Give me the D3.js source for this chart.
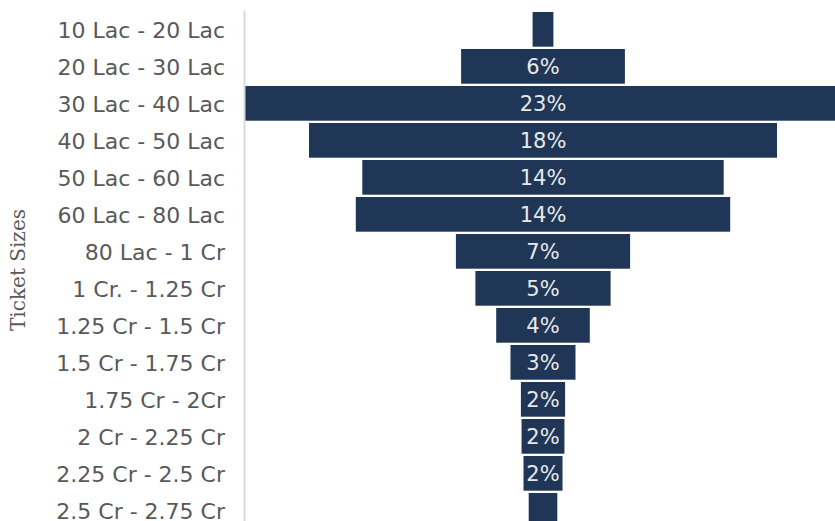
<!DOCTYPE html>
<html>
<head>
<meta charset="utf-8">
<script src="https://cdn.jsdelivr.net/npm/d3@7"></script>
<style>
  html, body { margin: 0; padding: 0; background: #fff; }
  svg { display: block; }
</style>
</head>
<body>
<div id="chart"></div>
<script>
/* ─────────────── DATA ─────────────── */
const categories = [
  '10 Lac - 20 Lac', '20 Lac - 30 Lac', '30 Lac - 40 Lac', '40 Lac - 50 Lac',
  '50 Lac - 60 Lac', '60 Lac - 80 Lac', '80 Lac - 1 Cr', '1 Cr. - 1.25 Cr',
  '1.25 Cr - 1.5 Cr', '1.5 Cr - 1.75 Cr', '1.75 Cr - 2Cr', '2 Cr - 2.25 Cr',
  '2.25 Cr - 2.5 Cr', '2.5 Cr - 2.75 Cr'
];
// share of units per ticket size (%)
const shares = [0.8, 6.3, 23.0, 18.0, 13.9, 14.4, 6.7, 5.2, 3.6, 2.5, 1.7, 1.65, 1.5, 1.1];
const axisTitle = 'Ticket Sizes';
/* ──────────────────────────────────── */

const W = 835, H = 521;
const plot = { left: 244, right: 835, top: 10.85, bottom: 528.85 };
const center = 543;

const svg = d3.select('#chart')
  .append('svg')
  .attr('width', W)
  .attr('height', H);

const x = d3.scaleLinear()
  .domain([-11.5, 11.5])
  .range([center - 11.5 * 26, center + 11.5 * 26]);

const y = d3.scaleBand()
  .domain(categories)
  .range([plot.top, plot.bottom])
  .paddingInner(0.062)
  .paddingOuter(0.031);

svg.append('clipPath')
  .attr('id', 'plot-clip')
  .append('rect')
  .attr('x', plot.left + 1)
  .attr('y', 0)
  .attr('width', plot.right - plot.left - 1)
  .attr('height', H);

const rows = categories.map((c, i) => ({ cat: c, v: shares[i] }));

// bars, centred on the funnel axis
const bars = svg.append('g').attr('clip-path', 'url(#plot-clip)');

bars.selectAll('rect')
  .data(rows)
  .join('rect')
    .attr('x', (d) => x(-d.v / 2))
    .attr('y', (d) => y(d.cat))
    .attr('width', (d) => x(d.v / 2) - x(-d.v / 2))
    .attr('height', y.bandwidth())
    .attr('fill', '#1f3657');

// labels only where they fit (>= 1.5%)
bars.selectAll('text')
  .data(rows.filter((d) => d.v >= 1.5))
  .join('text')
    .attr('x', center)
    .attr('y', (d) => y(d.cat) + y.bandwidth() / 2)
    .attr('dy', '0.38em')
    .attr('text-anchor', 'middle')
    .attr('font-family', 'DejaVu Sans, sans-serif')
    .attr('font-size', 21)
    .attr('fill', '#e8e8e8')
    .text((d) => `${Math.round(d.v)}%`);

// category axis
const yAxis = svg.append('g')
  .attr('transform', `translate(${plot.left},0)`)
  .call(d3.axisLeft(y).tickSize(0).tickPadding(19));

yAxis.select('.domain')
  .attr('d', `M0.5,${plot.top}V${H}`)
  .attr('stroke', '#d9d9d9')
  .attr('stroke-width', 2);

yAxis.selectAll('text')
  .attr('dy', '0.38em')
  .attr('font-family', 'DejaVu Sans, sans-serif')
  .attr('font-size', 22)
  .attr('fill', '#595959');

// axis title
svg.append('text')
  .attr('transform', `translate(25,270) rotate(-90)`)
  .attr('text-anchor', 'middle')
  .attr('font-family', 'DejaVu Serif, serif')
  .attr('font-size', 20)
  .attr('fill', '#595959')
  .text(axisTitle);
</script>
</body>
</html>
